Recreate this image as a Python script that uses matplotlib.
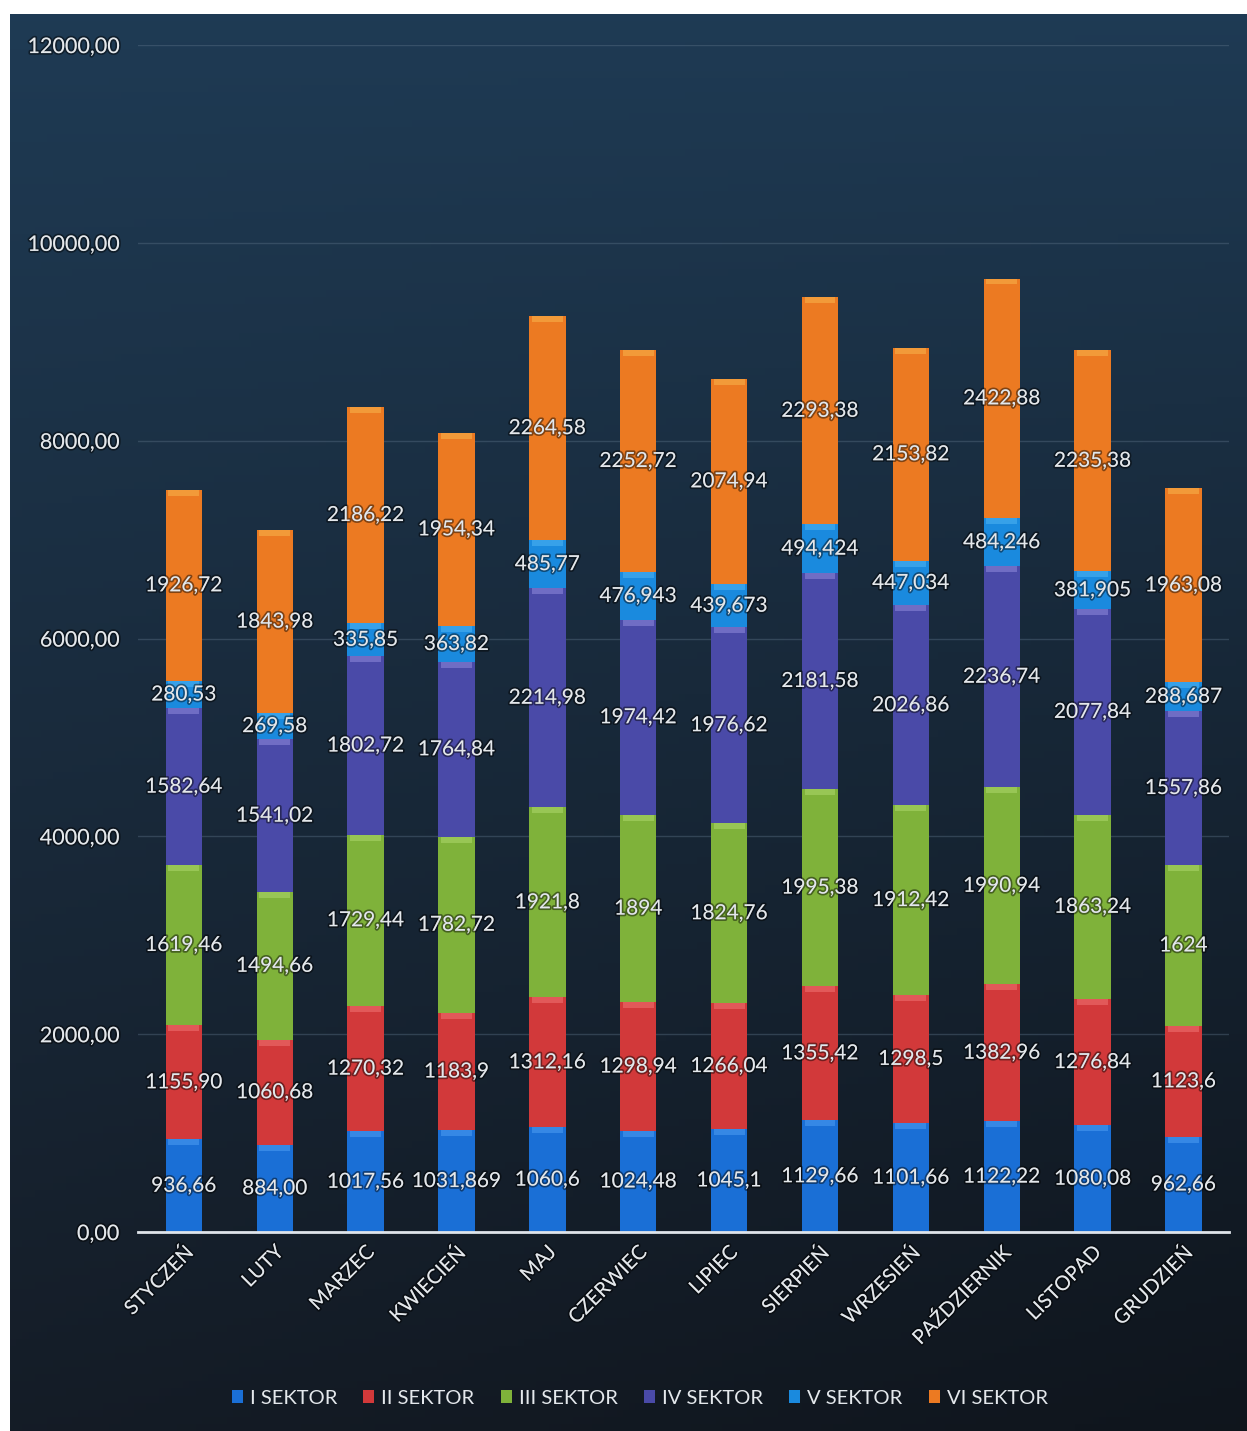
import numpy as np
import matplotlib
matplotlib.use("Agg")
import matplotlib.pyplot as plt
import matplotlib.ticker as ticker
import matplotlib.patheffects as pe

plt.rcParams["font.family"] = ["Lato", "DejaVu Sans"]

# ---------------------------------------------------------------------------
# Data (labels kept exactly as printed on the chart)
# ---------------------------------------------------------------------------
MONTHS = ["STYCZEŃ", "LUTY", "MARZEC", "KWIECIEŃ", "MAJ", "CZERWIEC", "LIPIEC",
          "SIERPIEŃ", "WRZESIEŃ", "PAŹDZIERNIK", "LISTOPAD", "GRUDZIEŃ"]

SEKTOR_I = ["936,66", "884,00", "1017,56", "1031,869", "1060,6", "1024,48",
            "1045,1", "1129,66", "1101,66", "1122,22", "1080,08", "962,66"]
SEKTOR_II = ["1155,90", "1060,68", "1270,32", "1183,9", "1312,16", "1298,94",
             "1266,04", "1355,42", "1298,5", "1382,96", "1276,84", "1123,6"]
SEKTOR_III = ["1619,46", "1494,66", "1729,44", "1782,72", "1921,8", "1894",
              "1824,76", "1995,38", "1912,42", "1990,94", "1863,24", "1624"]
SEKTOR_IV = ["1582,64", "1541,02", "1802,72", "1764,84", "2214,98", "1974,42",
             "1976,62", "2181,58", "2026,86", "2236,74", "2077,84", "1557,86"]
SEKTOR_V = ["280,53", "269,58", "335,85", "363,82", "485,77", "476,943",
            "439,673", "494,424", "447,034", "484,246", "381,905", "288,687"]
SEKTOR_VI = ["1926,72", "1843,98", "2186,22", "1954,34", "2264,58", "2252,72",
             "2074,94", "2293,38", "2153,82", "2422,88", "2235,38", "1963,08"]

SERIES_NAMES = ["I SEKTOR", "II SEKTOR", "III SEKTOR", "IV SEKTOR", "V SEKTOR", "VI SEKTOR"]
SERIES = [SEKTOR_I, SEKTOR_II, SEKTOR_III, SEKTOR_IV, SEKTOR_V, SEKTOR_VI]

COLORS = ["#1a6fd6", "#d2393a", "#7fb23a", "#4a4aa8", "#1a8ade", "#ec7a22"]
CAPS = ["#4a9af0", "#ee6f6f", "#a9d468", "#8a85d8", "#4cb2f2", "#f7b04a"]

TEXT = "#e4e8ec"


def to_num(s):
    return float(s.replace(",", "."))


fig = plt.figure(figsize=(12.47, 14.31), dpi=100, facecolor="white")

# dark photographed background with gradient
bg = fig.add_axes([0.008, 0.0, 0.992, 0.99])
bg.set_axis_off()
yy, xx = np.mgrid[0:1:200j, 0:1:200j]
top = np.array([0.12, 0.23, 0.33])
bot = np.array([0.08, 0.11, 0.15])
grad = top[None, None, :] * (1 - yy[..., None]) + bot[None, None, :] * yy[..., None]
grad = grad * (1 - 0.25 * xx[..., None] * yy[..., None])
bg.imshow(grad, aspect="auto", extent=[0, 1, 0, 1], origin="upper")
bg.set_xlim(0, 1)
bg.set_ylim(0, 1)

ax = fig.add_axes([0.111, 0.139, 0.8745, 0.8295])
ax.set_facecolor("none")

x = np.arange(len(MONTHS))
width = 0.4
bottom = np.zeros(len(MONTHS))
shadow = [pe.withStroke(linewidth=2.5, foreground=(0, 0, 0, 0.45))]

for name, vals, col, cap in zip(SERIES_NAMES, SERIES, COLORS, CAPS):
    v = np.array([to_num(s) for s in vals])
    ax.bar(x, v, width, bottom=bottom, color=col, label=name, zorder=3)
    # lighter bevel strip at top of each segment
    ax.bar(x, np.full_like(v, 60), width * 0.85, bottom=bottom + v - 60,
           color=cap, zorder=3.5, alpha=0.6)
    for xi, b, h, s in zip(x, bottom, v, vals):
        ax.text(xi, b + h / 2, s, ha="center", va="center", color=TEXT,
                fontsize=15, zorder=5, path_effects=shadow)
    bottom = bottom + v

ax.set_xlim(-0.5, len(MONTHS) - 0.5)
ax.set_ylim(0, 12000)
ax.yaxis.set_major_locator(ticker.MultipleLocator(2000))
ax.yaxis.set_major_formatter(ticker.FuncFormatter(lambda v, _: f"{v:.2f}".replace(".", ",")))
ax.tick_params(axis="y", length=0, colors=TEXT, labelsize=15.5, pad=14)
ax.tick_params(axis="x", length=0, colors=TEXT, labelsize=14.5, pad=8)
ax.set_xticks(x)
ax.set_xticklabels(MONTHS, rotation=45, ha="right", rotation_mode="anchor")
for t in ax.get_yticklabels() + ax.get_xticklabels():
    t.set_path_effects(shadow)

ax.yaxis.grid(True, color="#5d7388", linewidth=1.0, alpha=0.4, zorder=0)
for sp in ["top", "right", "left"]:
    ax.spines[sp].set_visible(False)
ax.spines["bottom"].set_color("#dfe4ea")
ax.spines["bottom"].set_linewidth(2)
ax.spines["bottom"].set_zorder(4)

handles, labels = ax.get_legend_handles_labels()
leg = fig.legend(handles, labels, loc="center", bbox_to_anchor=(0.513, 0.023),
                 ncol=6, frameon=False, fontsize=14.5, handlelength=0.55,
                 handleheight=0.55, handletextpad=0.35, columnspacing=1.3)
for t in leg.get_texts():
    t.set_color(TEXT)

fig.savefig("out.png", dpi=100, facecolor=fig.get_facecolor())
